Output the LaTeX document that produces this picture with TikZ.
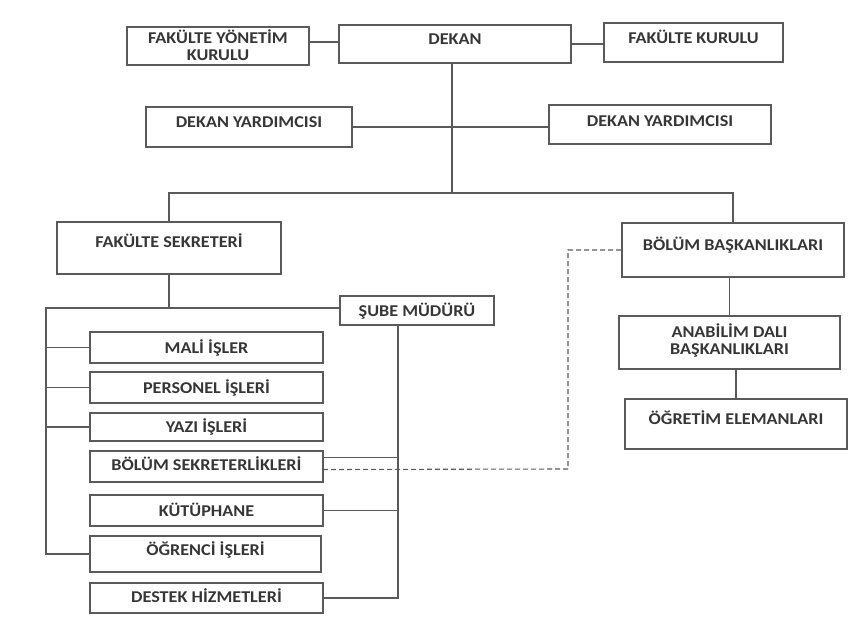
\documentclass[tikz,border=0pt]{standalone}
\usepackage{fontspec}
\setmainfont{Carlito}[FakeStretch=1.1]
\usepackage{tikz}
\usetikzlibrary{positioning}
\usetikzlibrary{calc}
\definecolor{ink}{HTML}{363636}
\definecolor{rule}{HTML}{5A5A5A}

\begin{document}
\begin{tikzpicture}[x=1pt,y=-1pt,
unit/.style={draw=rule,line width=1.1pt,align=center,inner sep=0pt,outer sep=0pt,text=ink,
  font=\fontsize{16.5}{17}\selectfont\bfseries,text height=11pt,text depth=0pt},
twoline/.style={unit,text height=28pt},
lift/.style={text depth=#1pt},
link/.style={draw=rule,line width=1.1pt},
dotted link/.style={link,dash pattern=on 5pt off 3pt}]
\useasboundingbox (0,0) rectangle (856,632);
% top row
\node[twoline,minimum width=182pt,minimum height=38pt] (fyk) at (218,46) {FAKÜLTE YÖNETİM\\KURULU};
\node[unit,minimum width=232pt,minimum height=38pt,lift=10] (dekan) at (455,44) {DEKAN};
\node[unit,minimum width=179pt,minimum height=39pt,lift=9] (fk) at (693.5,42.5) {FAKÜLTE KURULU};
\node[unit,minimum width=206pt,minimum height=40pt,lift=10] (dyl) at (249,127) {DEKAN YARDIMCISI};
\node[unit,minimum width=222pt,minimum height=39pt,lift=7] (dyr) at (660,124.5) {DEKAN YARDIMCISI};
% second level
\node[unit,minimum width=224pt,minimum height=52pt,lift=12] (fs) at (169,248) {FAKÜLTE SEKRETERİ};
\node[unit,minimum width=222pt,minimum height=54pt,lift=10] (bb) at (733,250) {BÖLÜM BAŞKANLIKLARI};
\node[unit,minimum width=154pt,minimum height=29pt] (sm) at (417,310.5) {ŞUBE MÜDÜRÜ};
% offices
\node[unit,minimum width=233pt,minimum height=31pt] (mali) at (206.5,347.5) {MALİ İŞLER};
\node[unit,minimum width=233pt,minimum height=31pt] (pers) at (206.5,387.5) {PERSONEL İŞLERİ};
\node[unit,minimum width=233pt,minimum height=28pt] (yazi) at (206.5,427) {YAZI İŞLERİ};
\node[unit,minimum width=233pt,minimum height=31pt,lift=3] (bsek) at (206.5,466.5) {BÖLÜM SEKRETERLİKLERİ};
\node[unit,minimum width=233pt,minimum height=31pt] (kut) at (206.5,510.5) {KÜTÜPHANE};
\node[unit,minimum width=231pt,minimum height=36pt,lift=8] (ogr) at (205.5,554) {ÖĞRENCİ İŞLERİ};
\node[unit,minimum width=233pt,minimum height=30pt,lift=2] (destek) at (206.5,598) {DESTEK HİZMETLERİ};
% academic side
\node[twoline,minimum width=221pt,minimum height=53pt,lift=4] (ana) at (729.5,342.5) {ANABİLİM DALI\\BAŞKANLIKLARI};
\node[unit,minimum width=222pt,minimum height=50pt,lift=10] (ogretim) at (736,424) {ÖĞRETİM ELEMANLARI};
% junction points
\coordinate (hub) at (452,193);
\coordinate (lbus) at (46,308);
\coordinate (sbus) at (398,325);
\coordinate (dbend) at (568,469);
% connectors
\draw[link] ([yshift=4pt]fyk.east) -- ([yshift=4pt]fyk.east -| dekan.west);
\draw[link] (dekan.east) -- (dekan.east -| fk.west);
\draw[link] (dekan.south -| hub) -- (hub);
\draw[link] (dyl.east) -- (dyl.east -| dyr.west);
\draw[link] (fs.north) |- (hub) -| (bb.north);
\draw[link] (fs.south) -- (fs.south |- lbus);
\draw[link] (sm.west |- lbus) -- (lbus) -- (lbus |- ogr.west) -- (ogr.west);
\foreach \n in {mali,pers,yazi} \draw[link] (\n.west) -- (\n.west -| lbus);
\draw[link] (sm.south -| sbus) -- (sbus |- destek.east) -- (destek.east);
\draw[link] ([yshift=9pt]bsek.east) -- ([yshift=9pt]bsek.east -| sbus);
\draw[link] (kut.east) -- (kut.east -| sbus);
\draw[dotted link] ([yshift=-3pt]bsek.east) -- (dbend) |- (bb.west);
\draw[link] (bb.south -| ana.north) -- (ana.north);
\draw[link] (ana.south -| ogretim.north) -- (ogretim.north);
\end{tikzpicture}
\end{document}
